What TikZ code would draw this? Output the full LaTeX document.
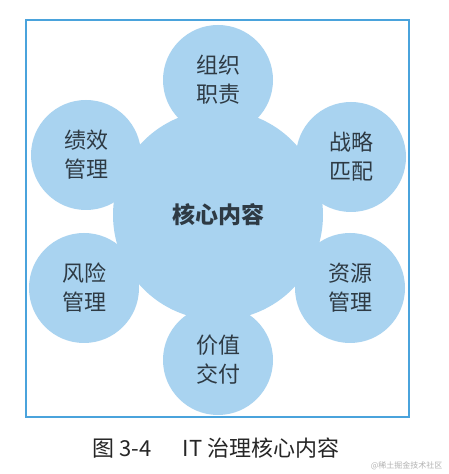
\documentclass[tikz,border=0pt]{standalone}
\usepackage{fontspec}
\newfontfamily\cjk{Noto Sans CJK SC}
\begin{document}
\begin{tikzpicture}[x=1pt,y=1pt,
  bubble/.style={circle,fill=bubblefill,draw=none,minimum size=110pt,inner sep=0pt},
  hub/.style={circle,fill=bubblefill,draw=none,minimum size=210pt,inner sep=0pt},
  lbl/.style={font=\cjk\fontsize{22}{29}\selectfont,text=textgray,align=center},
  hublbl/.style={font=\cjk\bfseries\fontsize{23}{26}\selectfont,text=textgray},
  frame/.style={draw=framecol,line width=1.3pt}]
\definecolor{bubblefill}{HTML}{A9D3F0}
\definecolor{framecol}{HTML}{4AA3DC}
\definecolor{textgray}{HTML}{2E3A44}
\useasboundingbox (0,0) rectangle (448,474);
\fill[white] (0,0) rectangle (448,474);
\draw[frame] (26,57) rectangle (409,454);
% hub and satellites
\node[hub] (hub) at (218,259) {};
\node[bubble] (top) at (218,394) {};
\node[bubble] (ul) at (86,319) {};
\node[bubble] (ur) at (351,317) {};
\node[bubble] (ll) at (84,186) {};
\node[bubble] (lr) at (350,186) {};
\node[bubble] (bot) at (218,114) {};
% labels
\node[hublbl] (hubt) at (hub) {核心内容};
\node[lbl] (topt) at (top) {组织\\职责};
\node[lbl] (ult) at (ul) {绩效\\管理};
\node[lbl] (urt) at (ur) {战略\\匹配};
\node[lbl] (llt) at (ll) {风险\\管理};
\node[lbl] (lrt) at (lr) {资源\\管理};
\node[lbl] (bott) at (bot) {价值\\交付};
% caption
\node[font=\cjk\fontsize{22}{26}\selectfont,text=black!85] (cap) at (216,26) {图 3-4\hspace{1.4em}IT 治理核心内容};
\node[font=\cjk\fontsize{8}{10}\selectfont,text=black!30,anchor=east] (wm) at (446,8) {@稀土掘金技术社区};
\end{tikzpicture}
\end{document}
